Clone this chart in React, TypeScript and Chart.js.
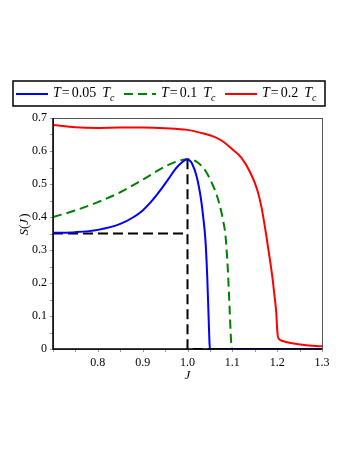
import React, { useEffect, useRef } from "react";
import { Chart, registerables } from "chart.js";

Chart.register(...registerables);

const legendLabels = ["0.05", "0.1", "0.2"];
const seriesColors = ["#0000ff", "#008000", "#ff0000"];

const blueJ = [0.7, 0.75, 0.8, 0.85, 0.88, 0.9, 0.92, 0.94, 0.96, 0.97, 0.98, 0.99, 0.995, 1.0, 1.005, 1.01, 1.02, 1.03, 1.035, 1.04, 1.044, 1.047, 1.049, 1.05, 1.3];
const blueS = [0.352, 0.354, 0.361, 0.379, 0.4, 0.42, 0.448, 0.482, 0.52, 0.54, 0.556, 0.568, 0.573, 0.575, 0.571, 0.562, 0.525, 0.455, 0.4, 0.33, 0.22, 0.1, 0.02, 0.0, 0.0];

const greenJ = [0.7, 0.75, 0.8, 0.85, 0.9, 0.95, 0.98, 1.0, 1.02, 1.04, 1.06, 1.07, 1.08, 1.085, 1.09, 1.094, 1.097, 1.099, 1.3];
const greenS = [0.4, 0.42, 0.445, 0.475, 0.513, 0.553, 0.57, 0.575, 0.568, 0.54, 0.485, 0.445, 0.385, 0.34, 0.24, 0.12, 0.03, 0.0, 0.0];

const redJ = [0.7, 0.75, 0.8, 0.85, 0.9, 0.95, 1.0, 1.03, 1.06, 1.08, 1.1, 1.12, 1.14, 1.155, 1.165, 1.175, 1.185, 1.19, 1.195, 1.198, 1.2, 1.202, 1.21, 1.23, 1.26, 1.3];
const redS = [0.679, 0.672, 0.67, 0.671, 0.671, 0.669, 0.664, 0.655, 0.643, 0.628, 0.605, 0.58, 0.535, 0.485, 0.43, 0.35, 0.26, 0.21, 0.15, 0.11, 0.06, 0.035, 0.025, 0.018, 0.012, 0.008];

const guideJ = [0.7, 1.0, null, 1.0, 1.0, 1.3];
const guideS = [0.35, 0.35, null, 0.575, 0.0, 0.0];

const xTicks = [0.8, 0.9, 1.0, 1.1, 1.2, 1.3];
const yTicks = [0, 0.1, 0.2, 0.3, 0.4, 0.5, 0.6, 0.7];

const pts = (xs: (number | null)[], ys: (number | null)[]) =>
  xs.map((x, i) => ({ x: x as any, y: ys[i] as any }));

export default function App() {
  const ref = useRef<HTMLCanvasElement | null>(null);
  useEffect(() => {
    document.body.style.margin = "0";
    const canvas = ref.current!;
    const serif = "'Liberation Serif', 'Times New Roman', serif";

    const decor = {
      id: "decor",
      afterDraw(chart: any) {
        const ctx = chart.ctx as CanvasRenderingContext2D;
        const a = chart.chartArea;
        const xs = chart.scales.x;
        const ys = chart.scales.y;
        ctx.save();
        ctx.strokeStyle = "#999";
        ctx.lineWidth = 1;
        for (let v = 0.7; v <= 1.3001; v += 0.05) {
          const px = Math.round(xs.getPixelForValue(v)) + 0.5;
          ctx.beginPath();
          ctx.moveTo(px, a.bottom);
          ctx.lineTo(px, a.bottom + 3);
          ctx.stroke();
        }
        for (let v = 0; v <= 0.7001; v += 0.05) {
          const py = Math.round(ys.getPixelForValue(v)) + 0.5;
          ctx.beginPath();
          ctx.moveTo(a.left, py);
          ctx.lineTo(a.left - 3, py);
          ctx.stroke();
        }
        ctx.strokeStyle = "#555";
        ctx.lineWidth = 1;
        ctx.strokeRect(a.left + 0.5, a.top + 0.5, a.right - a.left, a.bottom - a.top);
        ctx.strokeStyle = "#000";
        ctx.lineWidth = 1.5;
        ctx.beginPath();
        ctx.moveTo(a.left, a.top);
        ctx.lineTo(a.left, a.bottom);
        ctx.lineTo(a.right, a.bottom);
        ctx.stroke();

        ctx.fillStyle = "#000";
        ctx.font = `italic 13px ${serif}`;
        ctx.textAlign = "center";
        ctx.textBaseline = "middle";
        ctx.fillText("J", (a.left + a.right) / 2, 376);
        ctx.save();
        ctx.translate(25, 225);
        ctx.rotate(-Math.PI / 2);
        ctx.textAlign = "left";
        const parts: [string, boolean][] = [["S", true], ["(", false], ["J", true], [")", false]];
        let total = 0;
        const widths = parts.map(([t, it]) => {
          ctx.font = `${it ? "italic " : ""}13px ${serif}`;
          const w = ctx.measureText(t).width;
          total += w;
          return w;
        });
        let cx = -total / 2;
        parts.forEach(([t, it], i) => {
          ctx.font = `${it ? "italic " : ""}13px ${serif}`;
          ctx.fillText(t, cx, 0);
          cx += widths[i] + (i === 2 ? 1 : 0);
        });
        ctx.restore();

        ctx.strokeStyle = "#000";
        ctx.lineWidth = 1.5;
        ctx.strokeRect(13, 81, 312, 25);
        const lineXs = [16, 124, 225];
        const ly = 94;
        for (let i = 0; i < 3; i++) {
          const x0 = lineXs[i];
          ctx.strokeStyle = seriesColors[i];
          ctx.lineWidth = 2;
          ctx.setLineDash(i === 1 ? [9, 5] : []);
          ctx.beginPath();
          ctx.moveTo(x0, ly);
          ctx.lineTo(x0 + 32, ly);
          ctx.stroke();
          ctx.setLineDash([]);
          let tx = x0 + 37;
          const base = 97;
          ctx.textBaseline = "alphabetic";
          ctx.textAlign = "left";
          ctx.fillStyle = "#000";
          ctx.font = `italic 14px ${serif}`;
          ctx.fillText("T", tx, base);
          tx += ctx.measureText("T").width + 1;
          ctx.font = `14px ${serif}`;
          ctx.fillText("=", tx, base);
          tx += ctx.measureText("=").width + 2;
          ctx.fillText(legendLabels[i], tx, base);
          tx += ctx.measureText(legendLabels[i]).width + 6;
          ctx.font = `italic 14px ${serif}`;
          ctx.fillText("T", tx, base);
          tx += ctx.measureText("T").width;
          ctx.font = `italic 10px ${serif}`;
          ctx.fillText("c", tx, base + 4);
        }
        ctx.restore();
      },
    };

    const line = (data: any, color: string, dash: number[] = []) => ({
      data,
      showLine: true,
      borderColor: color,
      borderWidth: 2,
      borderDash: dash,
      pointRadius: 0,
      cubicInterpolationMode: "monotone" as const,
    });

    const chart = new Chart(canvas, {
      type: "scatter",
      data: {
        datasets: [
          { label: "T = 0.05 Tc", ...line(pts(blueJ, blueS), seriesColors[0]) },
          { label: "T = 0.1 Tc", ...line(pts(greenJ, greenS), seriesColors[1], [9, 5]) },
          { label: "T = 0.2 Tc", ...line(pts(redJ, redS), seriesColors[2]) },
          {
            label: "guide",
            data: pts(guideJ, guideS),
            showLine: true,
            spanGaps: false,
            borderColor: "#000",
            borderWidth: 2,
            borderDash: [10, 5],
            pointRadius: 0,
            tension: 0,
          },
        ],
      },
      options: {
        animation: false,
        responsive: false,
        maintainAspectRatio: false,
        layout: { padding: { left: 0, right: 35, top: 118, bottom: 83 } },
        plugins: { legend: { display: false }, tooltip: { enabled: false } },
        scales: {
          x: {
            type: "linear",
            min: 0.7,
            max: 1.3,
            afterFit: (s: any) => { s.height = 30; },
            afterBuildTicks: (s: any) => { s.ticks = xTicks.map((v) => ({ value: v })); },
            grid: { display: false, drawTicks: false, tickLength: 0 },
            border: { display: false },
            ticks: {
              padding: 7,
              color: "#000",
              font: { family: serif, size: 12 },
              callback: (v: any) => Number(v).toFixed(1),
            },
          },
          y: {
            type: "linear",
            min: 0,
            max: 0.7,
            afterFit: (s: any) => { s.width = 53; },
            afterBuildTicks: (s: any) => { s.ticks = yTicks.map((v) => ({ value: v })); },
            grid: { display: false, drawTicks: false, tickLength: 0 },
            border: { display: false },
            ticks: {
              padding: 6,
              color: "#000",
              font: { family: serif, size: 12 },
              callback: (v: any) => (Number(v) === 0 ? "0" : Number(v).toFixed(1)),
            },
          },
        },
      },
      plugins: [decor],
    });
    return () => chart.destroy();
  }, []);
  return <canvas ref={ref} width={357} height={462} style={{ display: "block" }} />;
}
